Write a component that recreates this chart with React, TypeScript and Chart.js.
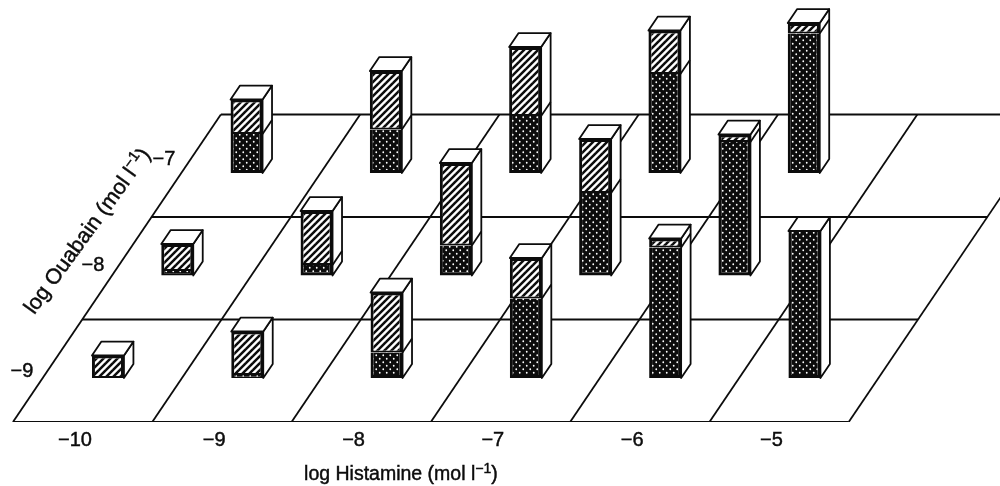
import React, { useEffect, useRef } from "react";
import { Chart, registerables } from "chart.js";

Chart.register(...registerables);

// Data: response (%), one list per ouabain level, by histamine level
const histamine = [-10, -9, -8, -7, -6, -5];
const ouabain = [-9, -8, -7];
const dottedAtMinus9 = [0, 2, 17, 53, 87, 98];
const hatchedAtMinus9 = [15, 29, 40, 27, 6, 0];
const dottedAtMinus8 = [3, 7, 20, 55, 89];
const hatchedAtMinus8 = [18, 36, 55, 36, 5];
const dottedAtMinus7 = [26, 29, 38, 66, 93];
const hatchedAtMinus7 = [23, 39, 46, 29, 7];
const dottedRows = [dottedAtMinus9, dottedAtMinus8, dottedAtMinus7];
const hatchedRows = [hatchedAtMinus9, hatchedAtMinus8, hatchedAtMinus7];

// Oblique projection of the floor onto the chart's two linear scales
const X_MIN = -10.538;
const X_MAX = -3.359;
const Y_MAX = 281.33;
const SHEAR_X = 0.4975; // x-units per ouabain decade
const ROW_Y = 68.33; // y-units per ouabain decade
const BAR_OFFSET_X = 0.237;
const BAR_BASE_Y = 29.33;
const DEPTH_X = 0.068;
const DEPTH_Y = 9.3;
const GRID_OFFSET_X = -0.445;
const BAR_PX = 32;
const INK = "#0c0c0c";
const FONT = '"Liberation Sans", Arial, sans-serif';

const floorX = (h: number, o: number) => h + (o - ouabain[0]) * SHEAR_X;
const floorY = (o: number) => (o - ouabain[0]) * ROW_Y;
const barX = (h: number, o: number) => floorX(h, o) + BAR_OFFSET_X;
const barY = (o: number) => floorY(o) + BAR_BASE_Y;

function tile(w: number, h: number, paint: (c: CanvasRenderingContext2D) => void) {
  const cv = document.createElement("canvas");
  cv.width = w;
  cv.height = h;
  const c = cv.getContext("2d")!;
  paint(c);
  return c.createPattern(cv, "repeat")!;
}

function makePatterns() {
  const hatch = tile(7, 7, (c) => {
    c.fillStyle = "#fff";
    c.fillRect(0, 0, 7, 7);
    c.strokeStyle = INK;
    c.lineWidth = 2.5;
    for (const s of [-7, 0, 7]) {
      c.beginPath();
      c.moveTo(s - 1, 8);
      c.lineTo(s + 8, -1);
      c.stroke();
    }
  });
  const dots = tile(7, 7, (c) => {
    c.fillStyle = INK;
    c.fillRect(0, 0, 7, 7);
    c.fillStyle = "#fff";
    for (const [x, y] of [[1.75, 1.75], [5.25, 5.25]]) {
      c.beginPath();
      c.arc(x, y, 0.9, 0, Math.PI * 2);
      c.fill();
    }
  });
  return { hatch, dots };
}

// Centred title with a real raised "-1" exponent
function drawUnitTitle(ctx: CanvasRenderingContext2D, head: string, size: number) {
  const supSize = Math.round(size * 0.72);
  const sup = "\u22121";
  ctx.textAlign = "left";
  ctx.textBaseline = "middle";
  ctx.lineWidth = 0.45;
  ctx.font = `${size}px ${FONT}`;
  const w1 = ctx.measureText(head).width;
  const w3 = ctx.measureText(")").width;
  ctx.font = `${supSize}px ${FONT}`;
  const w2 = ctx.measureText(sup).width;
  let x = -(w1 + w2 + w3) / 2;
  ctx.font = `${size}px ${FONT}`;
  ctx.fillText(head, x, 0);
  ctx.strokeText(head, x, 0);
  x += w1;
  ctx.font = `${supSize}px ${FONT}`;
  ctx.fillText(sup, x, -size * 0.3);
  ctx.strokeText(sup, x, -size * 0.3);
  x += w2;
  ctx.font = `${size}px ${FONT}`;
  ctx.fillText(")", x, 0);
  ctx.strokeText(")", x, 0);
}

const facesPlugin = {
  id: "barFaces",
  afterDatasetsDraw(chart: any) {
    const { ctx, scales } = chart;
    const xs = scales.x;
    const ys = scales.y;
    ctx.save();
    ctx.strokeStyle = INK;
    ctx.fillStyle = "#fff";
    ctx.lineWidth = 1.8;
    ctx.lineJoin = "round";
    const poly = (pts: number[][]) => {
      ctx.beginPath();
      pts.forEach(([a, b], i) => (i ? ctx.lineTo(a, b) : ctx.moveTo(a, b)));
      ctx.closePath();
      ctx.fill();
      ctx.stroke();
    };
    ouabain.forEach((o, r) => {
      dottedRows[r].forEach((dot, i) => {
        const h = histamine[i];
        const xc = xs.getPixelForValue(barX(h, o));
        const dx = xs.getPixelForValue(barX(h, o) + DEPTH_X) - xc;
        const base = barY(o);
        const yb = ys.getPixelForValue(base);
        const ysplit = ys.getPixelForValue(base + dot);
        const yt = ys.getPixelForValue(base + dot + hatchedRows[r][i]);
        const dy = ys.getPixelForValue(base + DEPTH_Y) - yb;
        const l = xc - BAR_PX / 2;
        const rr = xc + BAR_PX / 2;
        poly([[rr, yb], [rr + dx, yb + dy], [rr + dx, yt + dy], [rr, yt]]);
        poly([[l, yt], [l + dx, yt + dy], [rr + dx, yt + dy], [rr, yt]]);
        if (dot > 3 && hatchedRows[r][i] > 0) {
          ctx.beginPath();
          ctx.moveTo(rr, ysplit);
          ctx.lineTo(rr + dx, ysplit + dy);
          ctx.stroke();
        }
      });
    });
    ctx.restore();

    // Ouabain axis: ticks follow the left edge of the floor, title is slanted
    ctx.save();
    ctx.fillStyle = INK;
    ctx.strokeStyle = INK;
    ctx.lineWidth = 0.45;
    ctx.font = `20px ${FONT}`;
    ctx.textAlign = "center";
    ctx.textBaseline = "middle";
    ouabain.forEach((o, r) => {
      const px = xs.getPixelForValue(histamine[0] - 0.38 + r * (SHEAR_X + 0.012));
      const py = ys.getPixelForValue(34 + r * (ROW_Y + 2.3));
      const t = `\u2212${Math.abs(o)}`;
      ctx.fillText(t, px, py);
      ctx.strokeText(t, px, py);
    });
    ctx.save();
    ctx.translate(xs.getPixelForValue(-9.907), ys.getPixelForValue(127));
    ctx.rotate((-54 * Math.PI) / 180);
    drawUnitTitle(ctx, "log Ouabain (mol l", 21.5);
    ctx.restore();

    // Histamine axis title sits left of the axis centre, under the floor's middle
    ctx.save();
    ctx.translate(xs.getPixelForValue(-7.66), chart.height - 11);
    drawUnitTitle(ctx, "log Histamine (mol l", 19.5);
    ctx.restore();
    ctx.restore();
  },
};

export default function App() {
  const ref = useRef<HTMLCanvasElement>(null);

  useEffect(() => {
    const { hatch, dots } = makePatterns();
    const datasets: any[] = [];

    // Floor grid
    const edges = [...histamine, histamine[histamine.length - 1] + 1].map((h) => h + GRID_OFFSET_X);
    const levels = [...ouabain, ouabain[ouabain.length - 1] + 1];
    const line = (data: { x: number; y: number }[]) => ({
      type: "line",
      data,
      order: 10,
      borderColor: INK,
      borderWidth: 1.8,
      pointRadius: 0,
      tension: 0,
      fill: false,
    });
    levels.forEach((o) => {
      datasets.push(line([
        { x: floorX(edges[0], o), y: floorY(o) },
        { x: floorX(edges[edges.length - 1], o), y: floorY(o) },
      ]));
    });
    edges.forEach((e) => {
      datasets.push(line([
        { x: floorX(e, levels[0]), y: floorY(levels[0]) },
        { x: floorX(e, levels[3]), y: floorY(levels[3]) },
      ]));
    });

    // Stacked faces of the bars
    const dottedData: any[] = [];
    const hatchedData: any[] = [];
    ouabain.forEach((o, r) => {
      dottedRows[r].forEach((v, i) => {
        const x = barX(histamine[i], o);
        const base = barY(o);
        dottedData.push({ x, y: [base, base + v] });
        hatchedData.push({ x, y: [base + v, base + v + hatchedRows[r][i]] });
      });
    });
    const face = (label: string, data: any[], fill: CanvasPattern, borderWidth: any) => ({
      type: "bar",
      label,
      data,
      order: 1,
      grouped: false,
      barThickness: BAR_PX,
      backgroundColor: fill,
      borderColor: INK,
      borderWidth,
      borderSkipped: false,
      inflateAmount: 0,
    });
    datasets.push(face("Dotted", dottedData, dots, { left: 3, right: 3, bottom: 3, top: 0 }));
    datasets.push(face("Hatched", hatchedData, hatch, { left: 3, right: 3, bottom: 2, top: 3 }));

    const chart = new Chart(ref.current!, {
      type: "bar",
      data: { datasets },
      plugins: [facesPlugin],
      options: {
        animation: false,
        responsive: false,
        events: [],
        layout: { padding: 0 },
        plugins: { legend: { display: false }, tooltip: { enabled: false }, title: { display: false } },
        scales: {
          x: {
            type: "linear",
            position: "bottom",
            offset: false,
            min: X_MIN,
            max: X_MAX,
            grid: { display: false, drawTicks: false },
            border: { display: false },
            afterBuildTicks: (axis: any) => {
              axis.ticks = histamine.map((value) => ({ value }));
            },
            afterFit: (axis: any) => {
              axis.height = 64;
            },
            ticks: {
              autoSkip: false,
              maxRotation: 0,
              padding: 6,
              color: INK,
              textStrokeColor: INK,
              textStrokeWidth: 0.45,
              font: { family: FONT, size: 20 },
              callback: (v: any) => `\u2212${Math.abs(Number(v))}`,
            },
          },
          y: {
            type: "linear",
            display: false,
            stacked: false,
            min: 0,
            max: Y_MAX,
            grid: { display: false },
          },
        },
      } as any,
    } as any);
    return () => chart.destroy();
  }, []);

  return (
    <div style={{ position: "absolute", left: 0, top: 0, width: 1000, height: 486, background: "#fff" }}>
      <canvas ref={ref} width={1000} height={486} style={{ display: "block" }} />
    </div>
  );
}
